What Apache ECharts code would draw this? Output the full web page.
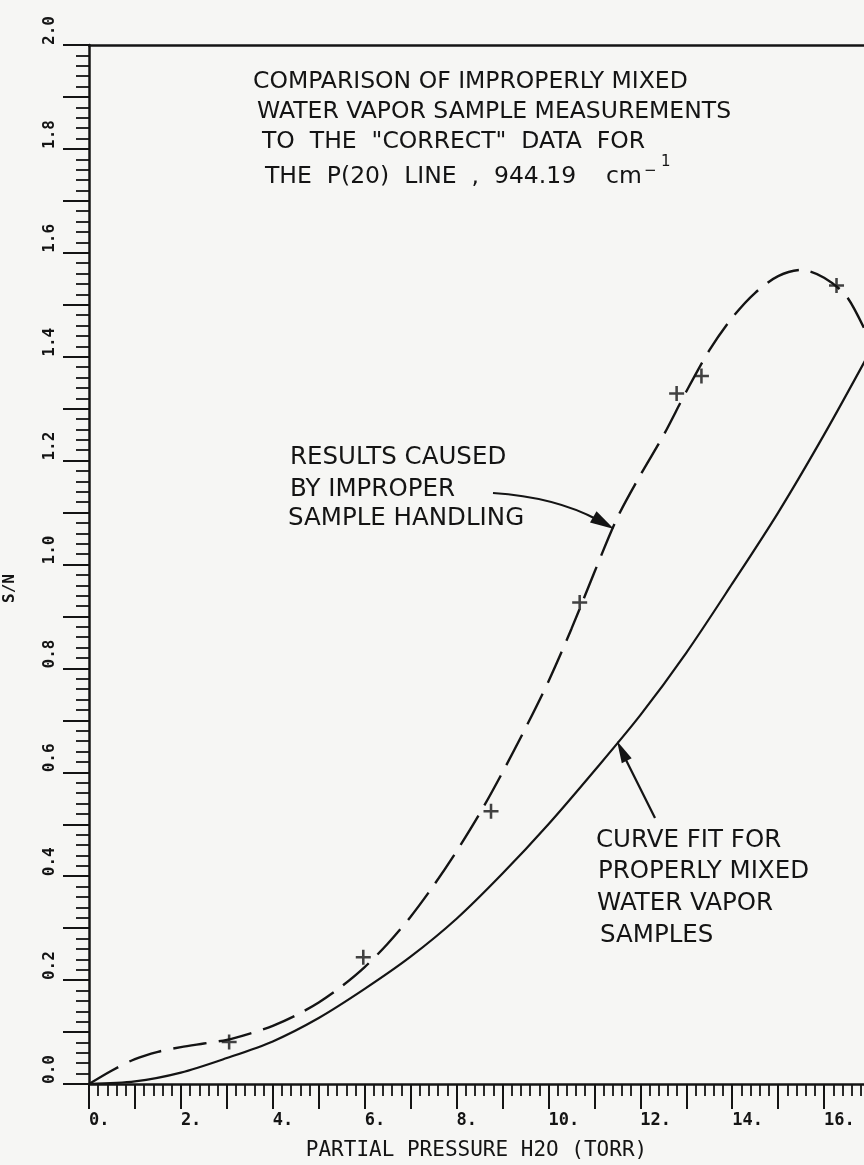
<!DOCTYPE html>
<html>
<head>
<meta charset="utf-8">
<script src="https://cdn.jsdelivr.net/npm/echarts@6/dist/echarts.min.js"></script>
<style>
  html, body { margin: 0; padding: 0; background: #f6f6f4; }
  #chart { width: 864px; height: 1165px; }
</style>
</head>
<body>
<div id="chart"></div>
<script>
// ---- data ----
const dashedX = [0, 0.5, 1.0, 1.5, 2.0, 2.5, 3.0, 3.5, 4.0, 4.5, 5.0, 5.5, 6.0, 6.5, 7.0, 7.5, 8.0, 8.5, 9.0, 9.5, 10.0, 10.5, 11.0, 11.5, 12.0, 12.5, 13.0, 13.5, 14.0, 14.5, 15.0, 15.5, 16.0, 16.5, 17.0];
const dashedY = [0, 0.026, 0.048, 0.062, 0.071, 0.078, 0.085, 0.097, 0.112, 0.132, 0.157, 0.188, 0.225, 0.27, 0.322, 0.382, 0.448, 0.52, 0.6, 0.685, 0.775, 0.876, 0.985, 1.09, 1.172, 1.248, 1.333, 1.412, 1.475, 1.523, 1.555, 1.567, 1.552, 1.515, 1.43];
const solidX = [0, 1, 2, 3, 4, 5, 6, 7, 8, 9, 10, 11, 12, 13, 14, 15, 16, 17];
const solidY = [0, 0.005, 0.022, 0.05, 0.082, 0.127, 0.183, 0.245, 0.318, 0.405, 0.5, 0.603, 0.71, 0.83, 0.963, 1.1, 1.25, 1.41];
const pointX = [3.05, 5.97, 8.75, 10.68, 12.79, 13.33, 16.27];
const pointY = [0.081, 0.244, 0.525, 0.927, 1.329, 1.363, 1.537];
const xMin = 0, xMax = 18, xStep = 1;
const yMin = 0, yMax = 2.0, yStep = 0.1;
const xTitle = 'PARTIAL PRESSURE H2O (TORR)';
const yTitle = 'S/N';
const titleLines = ['COMPARISON OF IMPROPERLY MIXED', 'WATER VAPOR SAMPLE MEASUREMENTS', 'TO  THE  "CORRECT"  DATA  FOR', 'THE  P(20)  LINE  ,  944.19    cm'];
const titleSupMinus = '\u2212';
const titleSupOne = '1';
const noteA = ['RESULTS CAUSED', 'BY IMPROPER', 'SAMPLE HANDLING'];
const noteB = ['CURVE FIT FOR', 'PROPERLY MIXED', 'WATER VAPOR', 'SAMPLES'];

const ink = '#141414';
const plotFont = 'DejaVu Sans Mono';
const noteFont = 'DejaVu Sans';

const chart = echarts.init(document.getElementById('chart'), null, { renderer: 'canvas' });

function pairs(xs, ys) { return xs.map((x, i) => [x, ys[i]]); }

function textEl(str, x, y, size) {
  return { type: 'text', x: x, y: y, z: 10,
    style: { text: str, fill: ink, font: 'normal ' + size + 'px "' + noteFont + '"', align: 'left', verticalAlign: 'middle' } };
}
function arrowHead(tip, from, len, half) {
  const dx = tip[0] - from[0], dy = tip[1] - from[1];
  const l = Math.sqrt(dx * dx + dy * dy);
  const ux = dx / l, uy = dy / l;
  const bx = tip[0] - ux * len, by = tip[1] - uy * len;
  return { type: 'polygon', z: 10, shape: { points: [tip, [bx - uy * half, by + ux * half], [bx + uy * half, by - ux * half]] },
    style: { fill: ink } };
}

const graphics = [];
const tPos = [[253, 82], [257, 112], [262, 142], [265, 177]];
titleLines.forEach((s, i) => graphics.push(textEl(s, tPos[i][0], tPos[i][1], 23.5)));
graphics.push(textEl(titleSupMinus, 644, 171, 15));
graphics.push(textEl(titleSupOne, 661, 162, 15));
const aPos = [[290, 458], [290, 490], [288, 519]];
noteA.forEach((s, i) => graphics.push(textEl(s, aPos[i][0], aPos[i][1], 24.5)));
const bPos = [[596, 841], [598, 872], [597, 904], [600, 936]];
noteB.forEach((s, i) => graphics.push(textEl(s, bPos[i][0], bPos[i][1], 24.5)));
// arrow for note A (slightly curved)
graphics.push({ type: 'bezierCurve', z: 10, shape: { x1: 493, y1: 493, x2: 598, y2: 520, cpx1: 555, cpy1: 497 },
  style: { stroke: ink, lineWidth: 2.2, fill: null } });
graphics.push(arrowHead([614, 529], [590, 515], 24, 6.5));
// arrow for note B
graphics.push({ type: 'line', z: 10, shape: { x1: 655, y1: 818, x2: 624, y2: 756 }, style: { stroke: ink, lineWidth: 2.2 } });
graphics.push(arrowHead([617, 741], [655, 818], 22, 5.5));

const option = {
  backgroundColor: '#f6f6f4',
  animation: false,
  grid: { left: 89, right: -52, top: 45, bottom: 81, containLabel: false, outerBoundsMode: 'none' },
  xAxis: [{
    type: 'value', min: xMin, max: xMax, interval: xStep, position: 'bottom',
    name: xTitle, nameLocation: 'middle', nameGap: 56,
    nameTextStyle: { fontFamily: plotFont, fontSize: 21, color: ink, padding: [0, 52, 0, 0] },
    axisLine: { show: true, onZero: false, lineStyle: { color: ink, width: 2.5 } },
    axisTick: { show: true, inside: false, length: 25, lineStyle: { color: ink, width: 2 } },
    minorTick: { show: true, splitNumber: 5, length: 12, lineStyle: { color: ink, width: 1.8 } },
    splitLine: { show: false },
    axisLabel: { show: true, margin: 28, align: 'left', fontFamily: plotFont, fontSize: 17, fontWeight: 'bold', color: ink,
      formatter: v => (Math.round(v) % 2 === 0 && v < 17 ? Math.round(v) + '.' : '') }
  }, {
    type: 'value', min: xMin, max: xMax, position: 'top',
    axisLine: { show: true, onZero: false, lineStyle: { color: ink, width: 2.5 } },
    axisTick: { show: false }, axisLabel: { show: false }, splitLine: { show: false }
  }],
  yAxis: {
    type: 'value', min: yMin, max: yMax, interval: yStep,
    name: yTitle, nameLocation: 'middle', nameGap: 71, nameRotate: 90,
    nameTextStyle: { fontFamily: plotFont, fontSize: 16, fontWeight: 'bold', color: ink, padding: [0, 48, 0, 0] },
    axisLine: { show: true, onZero: false, lineStyle: { color: ink, width: 2.5 } },
    axisTick: { show: true, inside: false, length: 26, lineStyle: { color: ink, width: 2 } },
    minorTick: { show: true, splitNumber: 5, length: 13, lineStyle: { color: ink, width: 1.8 } },
    splitLine: { show: false },
    axisLabel: { show: true, rotate: 90, align: 'left', verticalAlign: 'bottom', margin: 31,
      fontFamily: plotFont, fontSize: 16, fontWeight: 'bold', color: ink,
      formatter: v => (Math.round(v * 10) % 2 === 0 ? v.toFixed(1) : '') }
  },
  series: [{
    type: 'line', name: 'improper', data: pairs(dashedX, dashedY), smooth: 0.3, showSymbol: false, symbol: 'none',
    lineStyle: { color: ink, width: 2.4, type: [34, 12] }, clip: true
  }, {
    type: 'line', name: 'fit', data: pairs(solidX, solidY), smooth: 0.3, showSymbol: false, symbol: 'none',
    lineStyle: { color: ink, width: 2.2, type: 'solid' }, clip: true
  }, {
    type: 'scatter', name: 'measured', data: pairs(pointX, pointY), symbolSize: 15,
    symbol: 'path://M-1.7,-10 L1.7,-10 L1.7,-1.7 L10,-1.7 L10,1.7 L1.7,1.7 L1.7,10 L-1.7,10 L-1.7,1.7 L-10,1.7 L-10,-1.7 L-1.7,-1.7 Z',
    itemStyle: { color: ink }
  }],
  graphic: graphics
};
chart.setOption(option);
</script>
</body>
</html>
